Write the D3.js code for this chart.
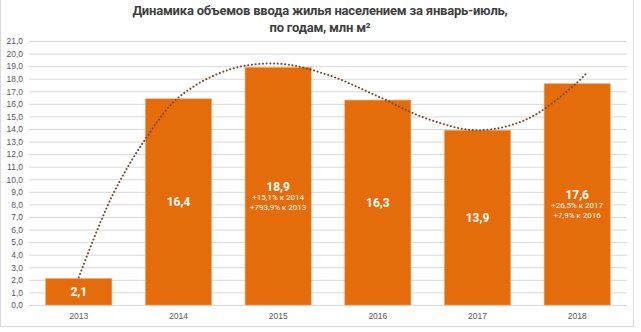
<!DOCTYPE html>
<html><head><meta charset="utf-8">
<script src="https://cdn.jsdelivr.net/npm/d3@7"></script>
<style>body{margin:0;background:#fff}svg{display:block}</style>
</head><body><svg id="c" width="641" height="332"></svg>
<script>
const titleLines = ["Динамика объемов ввода жилья населением за январь-июль,", "по годам, млн м²"];
const years = ["2013","2014","2015","2016","2017","2018"];
const values = [2.1, 16.4, 18.9, 16.3, 13.9, 17.6];
const valueLabels = ["2,1","16,4","18,9","16,3","13,9","17,6"];
const extraLabels = [[],[],["+15,1% к 2014","+793,9% к 2013"],[],[],["+26,5% к 2017","+7,9% к 2016"]];
const yTicks = d3.range(0, 22, 1);
// trend line: position in category units (2013=0) and value
const trendPos = [0, 0.33, 0.66, 1, 1.5, 2, 2.5, 3, 3.5, 4, 4.5, 5, 5.1];
const trendVal = [2.2, 8.6, 13.1, 16.5, 18.7, 19.2, 18.3, 16.6, 14.8, 13.9, 14.8, 17.7, 18.5];

(function(){
const svg = d3.select("#c");
const pL = 29, pR = 627, pT = 41, pB = 305;
const x = d3.scaleBand().domain(years).range([pL, pR]).paddingInner(0.337).paddingOuter(0.168);
const y = d3.scaleLinear().domain([0, 21]).range([pB, pT]);
const fmt = v => d3.format(".1f")(v).replace(".", ",");

// frame
svg.append("path").attr("d", "M0.5,-2 V326.5 H633.5 V-2").attr("fill","none").attr("stroke","#d9d9d9");

// title
svg.append("g").selectAll("text").data(titleLines).join("text")
  .attr("x", 320).attr("y", (d,i)=>15 + i*17).attr("text-anchor","middle")
  .attr("font-family","Roboto, Arial, sans-serif").attr("font-weight","bold").attr("font-size",13)
  .attr("fill","#404040").attr("letter-spacing","-0.2").text(d=>d);

// y axis
const ya = d3.axisLeft(y).tickValues(yTicks).tickSize(-(pR-pL)).tickFormat(fmt).tickPadding(6);
const yg = svg.append("g").attr("transform",`translate(${pL},0)`).call(ya);
yg.select(".domain").remove();
yg.selectAll(".tick line").attr("stroke","#d9d9d9");
yg.selectAll(".tick text").attr("font-family","Arial, sans-serif").attr("font-size",8.5).attr("fill","#595959");

// x axis
const xa = d3.axisBottom(x).tickSize(0).tickPadding(8);
const xg = svg.append("g").attr("transform",`translate(0,${pB})`).call(xa);
xg.select(".domain").remove();
xg.selectAll(".tick text").attr("font-family","Arial, sans-serif").attr("font-size",8.5).attr("fill","#595959");

// bars
svg.append("g").selectAll("rect").data(values).join("rect")
  .attr("x",(d,i)=>x(years[i])).attr("width",x.bandwidth())
  .attr("y",d=>y(d)).attr("height",d=>pB-y(d))
  .attr("fill","#E46C0A").attr("stroke","#f0a060").attr("stroke-width",0.6);

// trend
const tx = d3.scaleLinear().domain([0,5]).range([x(years[0])+x.bandwidth()/2, x(years[5])+x.bandwidth()/2]);
svg.append("path").datum(trendPos.map((p,i)=>[tx(p), y(trendVal[i])]))
  .attr("d", d3.line().curve(d3.curveCatmullRom.alpha(0.5)))
  .attr("fill","none").attr("stroke","#7a4a2a").attr("stroke-width",2)
  .attr("stroke-dasharray","0.1,3.6").attr("stroke-linecap","round");

// labels
const lg = svg.append("g").attr("font-family","Roboto, Arial, sans-serif").attr("fill","#fff").attr("text-anchor","middle");
values.forEach((v,i)=>{
  const cx = x(years[i]) + x.bandwidth()/2;
  const cy = (y(v)+pB)/2;
  lg.append("text").attr("x",cx).attr("y",cy+4.5).attr("font-weight","bold").attr("font-size",12).text(valueLabels[i]);
  extraLabels[i].forEach((t,j)=>{
    lg.append("text").attr("x",cx).attr("y",cy+14+j*9.5).attr("font-size",8).text(t);
  });
});
})();
</script></body></html>
